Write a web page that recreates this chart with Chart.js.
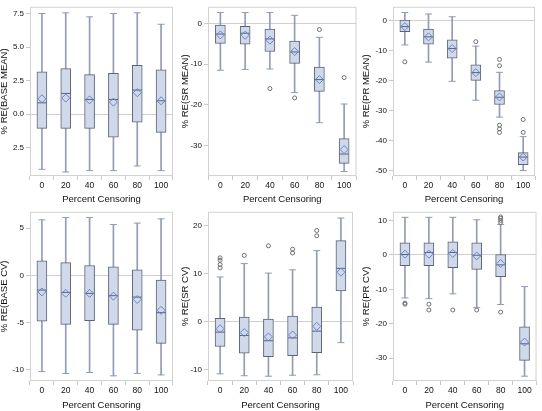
<!DOCTYPE html>
<html>
<head>
<meta charset="utf-8">
<script src="https://cdn.jsdelivr.net/npm/chart.js@4.4.0/dist/chart.umd.min.js"></script>
<style>
  body { margin: 0; background: #fff; }
  canvas { position: absolute; }
</style>
</head>
<body>
<canvas id="c1" width="181" height="205" style="left:0;top:0"></canvas>
<canvas id="c2" width="181" height="205" style="left:181px;top:0"></canvas>
<canvas id="c3" width="180" height="205" style="left:362px;top:0"></canvas>
<canvas id="c4" width="181" height="206" style="left:0;top:205px"></canvas>
<canvas id="c5" width="181" height="206" style="left:181px;top:205px"></canvas>
<canvas id="c6" width="180" height="206" style="left:362px;top:205px"></canvas>
<script>
var labels = ['0', '20', '40', '60', '80', '100'];

// each row: [min, q1, median, q3, max, mean]
var baseMeanStats = [
  [-4.1, -1.05, 0.85, 3.15, 7.5, 1.15],
  [-4.3, -1.05, 1.55, 3.4, 7.55, 1.2],
  [-4.2, -1.05, 1.1, 2.95, 7.25, 1.07],
  [-4.2, -1.7, 1.1, 3.05, 7.5, 0.9],
  [-3.85, -0.6, 1.8, 3.65, 7.55, 1.6],
  [-4.2, -1.35, 1.0, 3.3, 6.7, 1.0]
];
var baseMeanOutliers = [];
var baseMeanTicks = [-2.5, 0, 2.5, 5, 7.5];
var baseMeanTickText = ['2.5', '0.0', '2.5', '5.0', '7.5'];

var srMeanStats = [
  [-11.5, -4.9, -2.6, -0.4, 2.7, -2.8],
  [-11.3, -5.1, -2.4, -0.7, 2.7, -2.9],
  [-11.2, -6.9, -3.8, -1.4, 2.7, -4.1],
  [-17.0, -9.8, -7.0, -4.3, 2.0, -6.9],
  [-24.4, -16.7, -13.8, -10.7, -3.4, -13.8],
  [-36.4, -34.4, -32.1, -28.3, -19.8, -31.0]
];
var srMeanOutliers = [['40', -16.0], ['60', -18.3], ['80', -1.5], ['100', -13.3]];
var srMeanTicks = [-30, -20, -10, 0];

var prMeanStats = [
  [-8.2, -3.8, -2.1, 0.1, 2.6, -2.1],
  [-13.9, -7.9, -5.5, -2.9, 2.1, -5.5],
  [-20.3, -12.6, -9.4, -6.5, 1.2, -9.4],
  [-26.6, -20.0, -17.4, -14.8, -8.6, -17.4],
  [-32.2, -28.0, -25.6, -23.4, -17.3, -25.5],
  [-50.0, -48.0, -45.5, -44.0, -38.7, -45.5]
];
var prMeanOutliers = [['0', -13.8], ['60', -7.1], ['80', -13.0], ['80', -15.1],
  ['80', -34.9], ['80', -36.1], ['80', -37.3], ['100', -33.0], ['100', -37.3]];
var prMeanTicks = [-50, -40, -30, -20, -10, 0];

var baseCvStats = [
  [-10.2, -4.85, -1.55, 1.55, 5.9, -1.75],
  [-10.4, -5.2, -1.8, 1.35, 6.15, -1.9],
  [-10.3, -4.8, -1.9, 1.05, 6.15, -1.9],
  [-10.65, -5.2, -2.15, 0.9, 5.4, -2.2],
  [-10.4, -5.8, -2.3, 0.6, 5.55, -2.55],
  [-10.55, -7.2, -3.95, -0.5, 6.0, -3.7]
];
var baseCvOutliers = [];
var baseCvTicks = [-10, -5, 0, 5];

var srCvStats = [
  [-10.9, -5.2, -2.2, 0.7, 9.3, -1.5],
  [-11.3, -6.6, -2.9, 0.95, 12.1, -2.3],
  [-11.4, -7.3, -4.0, 0.5, 10.1, -3.2],
  [-11.2, -7.1, -3.4, 1.15, 10.8, -2.8],
  [-11.1, -6.5, -2.0, 3.0, 14.8, -1.0],
  [-4.4, 6.4, 11.1, 16.9, 21.6, 10.3]
];
var srCvOutliers = [['0', 11.2], ['0', 11.9], ['0', 12.8], ['0', 13.3], ['20', 13.8],
  ['40', 15.8], ['60', 14.3], ['60', 15.1], ['80', 17.9], ['80', 19.0]];
var srCvTicks = [-10, 0, 10, 20];

var prCvStats = [
  [-12.5, -3.1, 0.1, 3.5, 10.9, 0.2],
  [-12.7, -3.1, 0.7, 3.5, 10.9, 0.2],
  [-11.3, -3.7, 0.7, 3.8, 10.9, 0.4],
  [-15.3, -4.2, -0.1, 3.5, 10.2, -0.3],
  [-14.4, -6.3, -2.9, 0.1, 8.8, -2.5],
  [-35.2, -30.6, -25.8, -20.9, -9.2, -25.3]
];
var prCvOutliers = [['0', -14.0], ['0', -14.3], ['20', -14.3], ['20', -16.0], ['40', -16.0],
  ['60', -16.0], ['80', 9.4], ['80', 10.0], ['80', 10.6], ['80', 11.0], ['80', -16.6]];
var prCvTicks = [-30, -20, -10, 0, 10];

var frame = {
  id: 'frame',
  beforeDatasetsDraw: function(chart) {
    var a = chart.chartArea, ctx = chart.ctx;
    ctx.save();
    ctx.strokeStyle = '#d2d2d2';
    ctx.lineWidth = 1;
    ctx.strokeRect(a.left + 0.5, a.top + 0.5, a.right - a.left - 1, a.bottom - a.top - 1);
    ctx.restore();
  }
};

function boxChart(id, stats, outliers, ticks, tickText, yMin, yMax, title, padL, padR, xH) {
  var caps = [];
  stats.forEach(function(s, i) {
    caps.push({x: labels[i], y: s[0]});
    caps.push({x: labels[i], y: s[4]});
  });
  new Chart(document.getElementById(id), {
    type: 'bar',
    data: {
      labels: labels,
      datasets: [
        { data: stats.map(function(s) { return [s[0], s[4]]; }), backgroundColor: '#919cb6',
          barThickness: 1, grouped: false, order: 6 },
        { data: stats.map(function(s) { return [s[1], s[3]]; }), backgroundColor: '#cfd9ea',
          borderColor: '#5c6374', borderWidth: 1, borderSkipped: false, barThickness: 10,
          grouped: false, order: 5 },
        { type: 'line', data: caps, showLine: false, pointStyle: 'line', pointRadius: 3.5,
          borderColor: '#919cb6', borderWidth: 1, order: 4 },
        { type: 'line', data: stats.map(function(s) { return s[2]; }), showLine: false,
          pointStyle: 'line', pointRadius: 4.5, borderColor: '#56617e', borderWidth: 1, order: 3 },
        { type: 'line', data: stats.map(function(s) { return s[5]; }), showLine: false,
          pointStyle: 'rectRot', pointRadius: 4, borderColor: '#6b85c6',
          backgroundColor: 'rgba(0,0,0,0)', borderWidth: 1, order: 2 },
        { type: 'line', data: outliers.map(function(o) { return {x: o[0], y: o[1]}; }),
          showLine: false, pointStyle: 'circle', pointRadius: 2, borderColor: '#6e6e6e',
          backgroundColor: 'rgba(0,0,0,0)', borderWidth: 1, order: 1 }
      ]
    },
    options: {
      responsive: false,
      animation: false,
      devicePixelRatio: 1,
      layout: { padding: { left: 0, right: padR, top: 1, bottom: 0 } },
      plugins: { legend: { display: false }, tooltip: { enabled: false } },
      scales: {
        x: {
          afterFit: function(s) { s.height = xH; },
          border: { display: false },
          grid: { drawOnChartArea: false, tickLength: 4, tickColor: '#c8c8c8' },
          ticks: { color: '#111', font: { family: 'Liberation Sans', size: 8.5 }, padding: 1, maxRotation: 0 },
          title: { display: true, text: 'Percent Censoring', color: '#111',
            font: { family: 'Liberation Sans', size: 9.5, lineHeight: 1 }, padding: { top: 0, bottom: 1 } }
        },
        y: {
          min: yMin, max: yMax,
          afterFit: function(s) { s.width = padL; },
          afterBuildTicks: function(s) { s.ticks = ticks.map(function(v) { return {value: v}; }); },
          border: { display: false },
          grid: {
            color: function(c) { return c.tick && c.tick.value === 0 ? '#cfcfcf' : 'rgba(0,0,0,0)'; },
            tickLength: 4, tickColor: '#c8c8c8'
          },
          ticks: {
            color: '#111', font: { family: 'Liberation Sans', size: 8 }, padding: 2,
            callback: function(v, i) { return tickText ? tickText[i] : v; }
          },
          title: { display: true, text: title, color: '#111',
            font: { family: 'Liberation Sans', size: 9.5, lineHeight: 1 }, padding: { top: 0, bottom: 0 } }
        }
      }
    },
    plugins: [frame]
  });
}

boxChart('c1', baseMeanStats, baseMeanOutliers, baseMeanTicks, baseMeanTickText, -4.6, 8.0, '% RE(BASE MEAN)', 30, 8, 29);
boxChart('c2', srMeanStats, srMeanOutliers, srMeanTicks, null, -37.5, 4.1, '% RE(SR MEAN)', 27, 5, 29);
boxChart('c3', prMeanStats, prMeanOutliers, prMeanTicks, null, -51.8, 4.5, '% RE(PR MEAN)', 31, 7, 29);
boxChart('c4', baseCvStats, baseCvOutliers, baseCvTicks, null, -11.2, 6.75, '% RE(BASE CV)', 30, 8, 30);
boxChart('c5', srCvStats, srCvOutliers, srCvTicks, null, -12.4, 22.9, '% RE(SR CV)', 27, 9, 30);
boxChart('c6', prCvStats, prCvOutliers, prCvTicks, null, -36.6, 12.5, '% RE(PR CV)', 31, 4, 30);
</script>
</body>
</html>
